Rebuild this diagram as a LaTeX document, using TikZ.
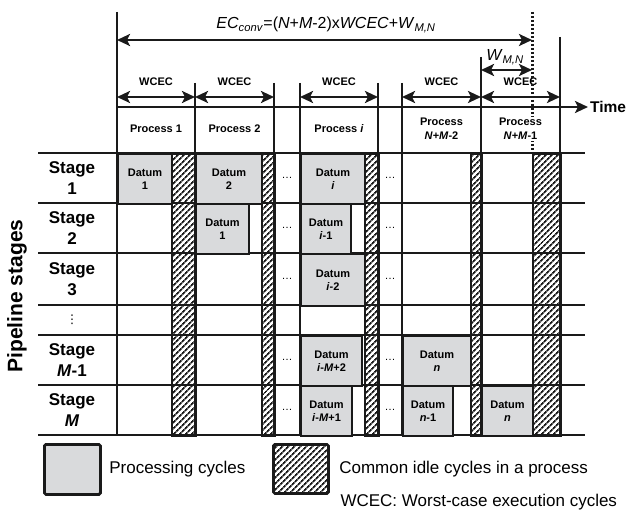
\documentclass[tikz,border=0pt]{standalone}
\usepackage{fontspec}
\setmainfont{Liberation Sans}
\newfontfamily\symfont{DejaVu Sans}
\usetikzlibrary{arrows.meta,patterns.meta,positioning}
\definecolor{ink}{HTML}{1A1A1A}
\definecolor{cellbg}{HTML}{D9DADC}

\begin{document}
\begin{tikzpicture}[x=1pt,y=-1pt,
  gridln/.style={draw=ink,line width=2.4pt},
  dat/.style={draw=ink,line width=2pt,fill=cellbg,anchor=north west,inner sep=0pt,
              align=center,font=\bfseries\fontsize{11}{13.5}\selectfont},
  idle/.style={draw=ink,line width=2pt,anchor=north west,inner sep=0pt,
               pattern={Lines[angle=45,distance=4pt,line width=1.9pt]},pattern color=ink},
  dim/.style={{Stealth[length=13pt,width=12pt,inset=3pt]}-{Stealth[length=13pt,width=12pt,inset=3pt]},
              draw=ink,line width=2.8pt},
  tarr/.style={-{Stealth[length=13pt,width=12pt,inset=3pt]},draw=ink,line width=2.8pt},
  lbl/.style={font=\bfseries\fontsize{11}{14}\selectfont,align=center},
  stg/.style={font=\bfseries\fontsize{17}{21}\selectfont,align=center},
  dots/.style={font=\fontsize{11}{13}\selectfont,inner sep=1pt},
  leg/.style={draw=ink,line width=2.8pt,rounded corners=1.5pt,anchor=north west,inner sep=0pt},
  legt/.style={font=\fontsize{17}{20}\selectfont}
]
\useasboundingbox (0,0) rectangle (629,513);

% grid
\foreach \y in {153,203,253,305,335,385,435}
  \draw[gridln] (38,\y) -- (585,\y);
\foreach \x/\t in {195/83,274/83,300/83,378/83,402/83,481/57,560/37}
  \draw[gridln] (\x,\t) -- (\x,435);
\draw[gridln,line width=2.8pt] (117,12) -- (117,435);

% processing cycles
\node[dat,minimum width=54pt,minimum height=50pt] (d1a) at (117,153) {Datum\\1};
\node[dat,minimum width=66pt,minimum height=50pt] (d1b) at (195,153) {Datum\\2};
\node[dat,minimum width=64pt,minimum height=50pt] (d1c) at (300,153) {Datum\\\textit{i}};
\node[dat,minimum width=53pt,minimum height=50pt] (d2b) at (195,203) {Datum\\1};
\node[dat,minimum width=50pt,minimum height=50pt] (d2c) at (300,203) {Datum\\\textit{i}-1};
\node[dat,minimum width=64pt,minimum height=52pt] (d3c) at (300,253) {Datum\\\textit{i}-2};
\node[dat,minimum width=61pt,minimum height=50pt] (d5c) at (300,335) {Datum\\\textit{i}-\textit{M}+2};
\node[dat,minimum width=68pt,minimum height=50pt] (d5d) at (402,335) {Datum\\\textit{n}};
\node[dat,minimum width=51pt,minimum height=50pt] (d6c) at (300,385) {Datum\\\textit{i}-\textit{M}+1};
\node[dat,minimum width=50pt,minimum height=50pt] (d6d) at (402,385) {Datum\\\textit{n}-1};
\node[dat,minimum width=51pt,minimum height=50pt] (d6e) at (481,385) {Datum\\\textit{n}};

% idle cycles
\node[idle,minimum width=24pt,minimum height=282pt] (h1) at (171,153) {};
\node[idle,minimum width=13pt,minimum height=282pt] (h2) at (261,153) {};
\node[idle,minimum width=14pt,minimum height=282pt] (h3) at (364,153) {};
\node[idle,minimum width=11pt,minimum height=282pt] (h4) at (470,153) {};
\node[idle,minimum width=28pt,minimum height=282pt] (h5) at (532,153) {};

% stages
\node[rotate=90,font=\bfseries\fontsize{21}{25}\selectfont] (pipe) at (17,296) {Pipeline stages};
\node[stg] (s1) at (72,178) {Stage\\1};
\node[stg] (s2) at (72,228) {Stage\\2};
\node[stg] (s3) at (72,279) {Stage\\3};
\node[font=\symfont\fontsize{12}{14}\selectfont] (sv) at (72,320) {⋮};
\node[stg] (sm1) at (72,360) {Stage\\\textit{M}-1};
\node[stg] (sm) at (72,410) {Stage\\\textit{M}};
\foreach \y in {178,228,279,360,410} {
  \node[dots] (ga\y) at (287,\y) {\dots};
  \node[dots] (gb\y) at (390,\y) {\dots};
}

% time axis and WCEC
\coordinate (t0) at (117,107);
\node[anchor=west,inner sep=2pt,font=\bfseries\fontsize{15.5}{18}\selectfont] (time) at (588,107) {Time};
\draw[tarr] (t0) -- (time.west);
\foreach \n/\x in {a/117,b/195,c/274,d/300,e/378,f/402,g/481,h/560}
  \coordinate (w\n) at (\x,97);
\draw[dim] (wa) -- (wb);
\draw[dim] (wb) -- (wc);
\draw[dim] (wd) -- (we);
\draw[dim] (wf) -- (wg);
\draw[dim] (wg) -- (wh);
\node[lbl] (c1) at (156,82) {WCEC};
\node[lbl] (c2) at (234.5,82) {WCEC};
\node[lbl] (c3) at (339,82) {WCEC};
\node[lbl] (c4) at (441.5,82) {WCEC};
\node[lbl] (c5) at (520.5,82) {WCEC};
\node[lbl] (p1) at (156,129) {Process 1};
\node[lbl] (p2) at (234.5,129) {Process 2};
\node[lbl] (pi) at (339,129) {Process \textit{i}};
\node[lbl] (pn2) at (441.5,129) {Process\\\textit{N}+\textit{M}-2};

% total execution cycles
\coordinate (ecl) at (117,40);
\coordinate (ecr) at (532,40);
\draw[dim] (ecl) -- (ecr);
\node[font=\fontsize{16}{19}\selectfont] (ec) at (326,25)
  {\textit{EC}\textsubscript{\textit{conv}}=(\textit{N}+\textit{M}-2)x\textit{WCEC}+\textit{W}\textsubscript{\textit{M,N}}};
\coordinate (wml) at (481,70);
\coordinate (wmr) at (532,70);
\draw[dim] (wml) -- (wmr);
\node[font=\fontsize{16}{19}\selectfont] (wmn) at (505,57) {\textit{W}\textsubscript{\textit{M,N}}};
\coordinate (dt) at (532,12);
\coordinate (db) at (532,153);
\draw[draw=ink,line width=3pt,dash pattern=on 2.5pt off 1.5pt] (dt) -- (db);
\node[lbl,fill=white,inner sep=1pt] (pn1) at (520.5,129) {Process\\\textit{N}+\textit{M}-1};

% legend
\node[leg,fill=cellbg,minimum width=56pt,minimum height=50pt] (lp) at (43,443) {};
\node[legt,right=4pt of lp] (lpt) {Processing cycles};
\node[leg,minimum width=55pt,minimum height=49pt,
      pattern={Lines[angle=45,distance=4pt,line width=1.9pt]},pattern color=ink] (li) at (272,443) {};
\node[legt,right=6pt of li] (lit) {Common idle cycles in a process};
\node[legt,anchor=west] (note) at (337,502) {WCEC: Worst-case execution cycles};
\end{tikzpicture}
\end{document}
